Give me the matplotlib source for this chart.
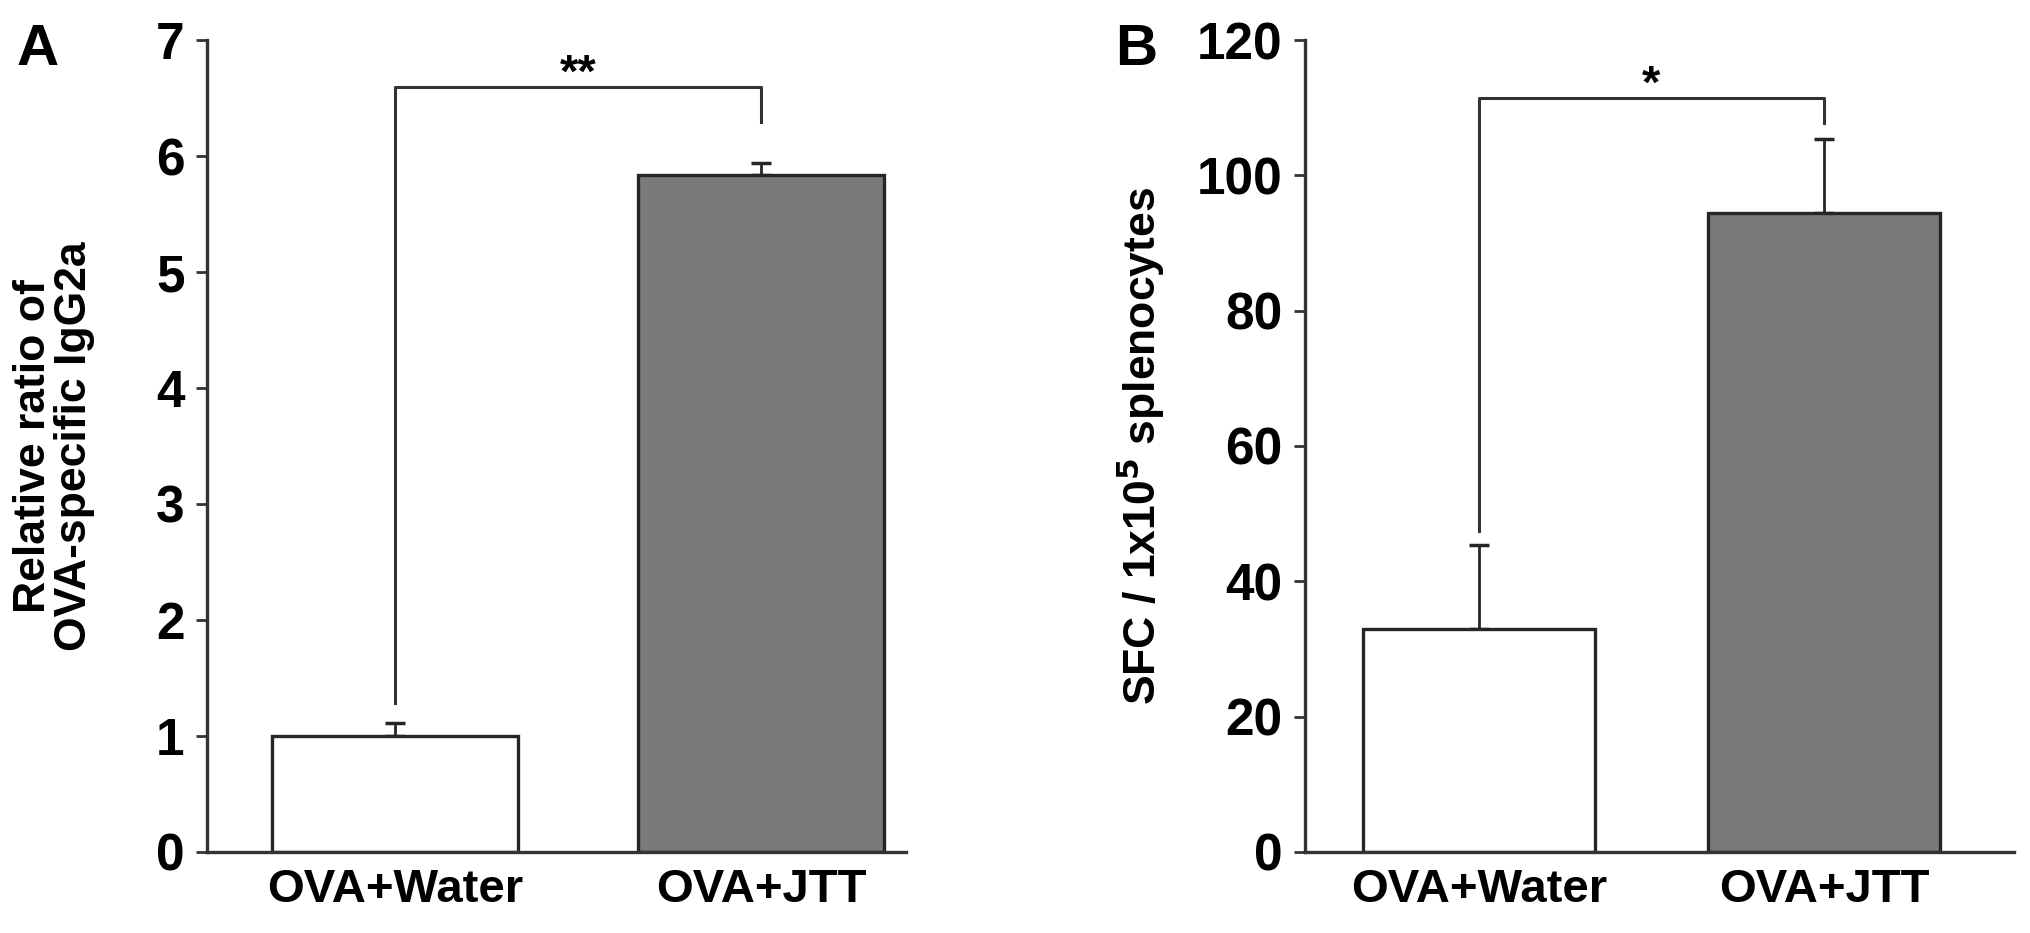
import matplotlib
matplotlib.use("Agg")
import matplotlib.pyplot as plt

plt.rcParams["font.family"] = ["Liberation Sans Narrow", "Liberation Sans", "DejaVu Sans"]
plt.rcParams["font.weight"] = "bold"
plt.rcParams["mathtext.default"] = "bf"

groups = ["OVA+Water", "OVA+JTT"]

# panel A: relative ratio of OVA-specific IgG2a
igg_means = [1.0, 5.84]
igg_errs = [0.11, 0.10]
igg_bracket = 6.6
igg_legs = [1.28, 6.29]

# panel B: SFC per 1x10^5 splenocytes
sfc_means = [33.0, 94.4]
sfc_errs = [12.3, 11.0]
sfc_bracket = 111.4
sfc_legs = [47.5, 107.7]

bar_colors = ["white", "#7a7a7a"]
edge = "#262626"
line_col = "#333333"


def draw_panel(ax, means, errs, ylim, yticks, ylabel, bracket_y, legs, stars, xlim):
    x = list(range(len(groups)))
    ax.bar(x, means, width=0.672, color=bar_colors, edgecolor=edge, linewidth=2.4, zorder=2)
    ax.errorbar(x, means, yerr=[[0, 0], errs], fmt="none", ecolor=edge,
                elinewidth=2.0, capsize=7, capthick=2.5, zorder=1)
    # significance bracket
    ax.plot([x[0], x[0], x[1], x[1]], [legs[0], bracket_y, bracket_y, legs[1]],
            color=line_col, linewidth=2.2, clip_on=False, zorder=3)
    ax.text((x[0] + x[1]) / 2, bracket_y - (ylim[1] - ylim[0]) * 0.012, stars,
            ha="center", va="bottom", fontsize=34, fontweight="bold")

    ax.set_xlim(*xlim)
    ax.set_ylim(*ylim)
    ax.set_yticks(yticks)
    ax.set_xticks(x)
    ax.set_xticklabels(groups, fontsize=34, fontweight="bold")
    ax.tick_params(axis="x", length=0, pad=12)
    ax.tick_params(axis="y", length=8, width=2, pad=8, labelsize=37, color=line_col)
    for lab in ax.get_yticklabels():
        lab.set_fontweight("bold")
    ax.set_ylabel(ylabel, fontsize=32, fontweight="bold", linespacing=1.0)
    for s in ["top", "right"]:
        ax.spines[s].set_visible(False)
    for s in ["left", "bottom"]:
        ax.spines[s].set_linewidth(2.4)
        ax.spines[s].set_color(line_col)


fig = plt.figure(figsize=(20.31, 9.33), dpi=100)
bottom = 0.087
height = 0.870
ax1 = fig.add_axes([0.1019, bottom, 0.3442, height])
ax2 = fig.add_axes([0.6425, bottom, 0.3491, height])

draw_panel(ax1, igg_means, igg_errs, (0, 7), range(0, 8),
           "Relative ratio of\nOVA-specific IgG2a", igg_bracket, igg_legs, "**",
           (-0.514, 1.396))
draw_panel(ax2, sfc_means, sfc_errs, (0, 120), range(0, 121, 20),
           "SFC / 1x10$^{5}$ splenocytes", sfc_bracket, sfc_legs, "*",
           (-0.504, 1.55))

ax1.yaxis.set_label_coords(-0.16, 0.5)
ax2.yaxis.set_label_coords(-0.195, 0.5)

fig.text(0.008, 0.975, "A", fontsize=42, fontweight="bold", va="top", ha="left")
fig.text(0.549, 0.975, "B", fontsize=42, fontweight="bold", va="top", ha="left")

fig.savefig("out.png", dpi=100)
